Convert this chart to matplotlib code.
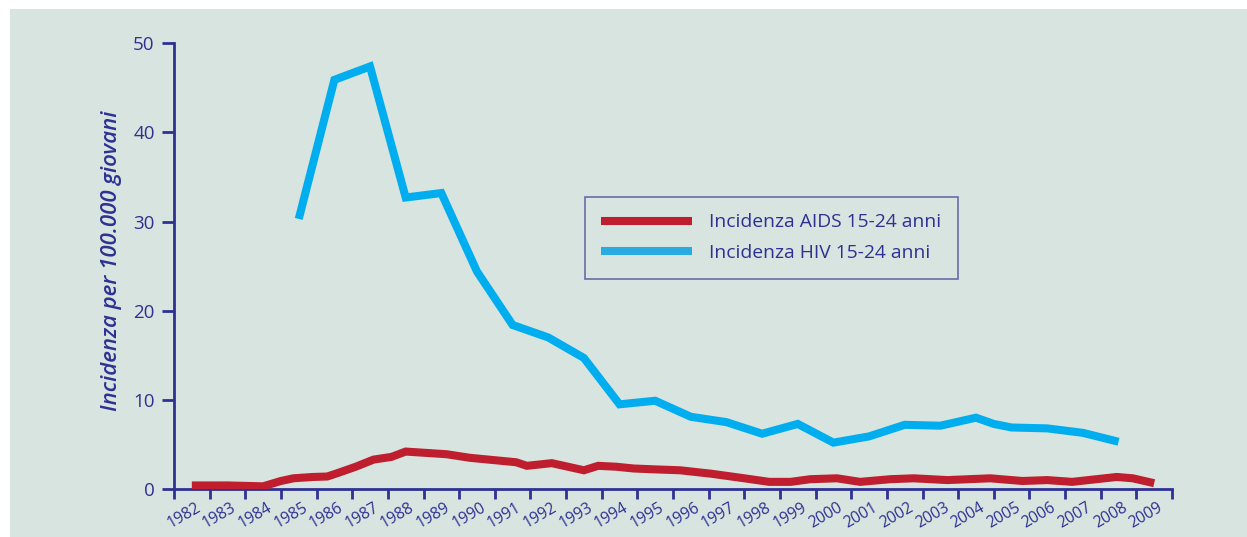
import matplotlib
matplotlib.use("Agg")
import matplotlib.pyplot as plt
from matplotlib.patches import Rectangle
from matplotlib.lines import Line2D
import matplotlib.transforms as mtransforms

# ---- data ----
years = list(range(1982, 2010))
year_labels = [str(y) for y in years]

aids_x = [1982.0, 1983.0, 1984.0, 1984.5, 1984.85, 1985.4, 1985.8, 1986.1, 1986.6,
          1987.1, 1987.6, 1988.0, 1989.15, 1989.8, 1991.1, 1991.4, 1992.1, 1993.0,
          1993.4, 1993.9, 1994.4, 1995.0, 1995.7, 1996.6, 1997.5, 1998.2, 1998.8,
          1999.35, 2000.1, 2000.75, 2001.6, 2002.25, 2003.2, 2004.4, 2005.3, 2006.0,
          2006.7, 2007.95, 2008.4, 2009.0]
aids_y = [0.4, 0.4, 0.3, 0.9, 1.2, 1.35, 1.4, 1.8, 2.5,
          3.3, 3.6, 4.2, 3.9, 3.5, 3.0, 2.6, 2.9, 2.1,
          2.6, 2.5, 2.3, 2.2, 2.1, 1.7, 1.2, 0.8, 0.8,
          1.1, 1.2, 0.8, 1.1, 1.2, 1.0, 1.2, 0.9, 1.0,
          0.8, 1.35, 1.2, 0.65]

hiv_x = [1985, 1986, 1987, 1988, 1989, 1990, 1991, 1992, 1993, 1994, 1995, 1996,
         1997, 1998, 1999, 2000, 2001, 2002, 2003, 2004, 2004.5, 2005, 2006, 2007, 2008]
hiv_y = [30.3, 45.9, 47.4, 32.7, 33.2, 24.4, 18.4, 17.0, 14.7, 9.5, 9.9, 8.1,
         7.5, 6.2, 7.3, 5.2, 5.9, 7.2, 7.1, 8.0, 7.3, 6.9, 6.8, 6.3, 5.3]

series_labels = ["Incidenza AIDS 15-24 anni", "Incidenza HIV 15-24 anni"]
ylabel = "Incidenza per 100.000 giovani"
yticks = [0, 10, 20, 30, 40, 50]

# ---- style ----
BG = "#d8e4df"
NAVY = "#2e3192"
RED = "#be1e2d"
BLUE = "#00aeef"
BLUE_LEG = "#29abe2"
FONT = ["Open Sans", "DejaVu Sans"]
plt.rcParams["font.family"] = FONT

W, H = 1247, 537
fig = plt.figure(figsize=(W / 100, H / 100), dpi=100)
fig.patch.set_facecolor("white")
fig.patches.append(Rectangle((10 / W, 0), 1 - 10 / W, 1 - 9 / H,
                             transform=fig.transFigure, facecolor=BG,
                             edgecolor="none", zorder=-10))

ax = fig.add_axes([174 / W, 1 - 489 / H, (1172 - 174) / W, (489 - 43.3) / H])
ax.set_facecolor("none")
ax.set_zorder(5)

ax.plot(aids_x, aids_y, color=RED, lw=5.8, solid_joinstyle="miter",
        solid_capstyle="butt", zorder=3)
ax.plot(hiv_x, hiv_y, color=BLUE, lw=5.8, solid_joinstyle="miter",
        solid_capstyle="butt", zorder=3)

ax.set_xlim(years[0] - 0.5, years[-1] + 0.5)
ax.set_ylim(0, 50)

for s in ["top", "right"]:
    ax.spines[s].set_visible(False)
for s in ["left", "bottom"]:
    ax.spines[s].set_color(NAVY)
    ax.spines[s].set_linewidth(2.0)
    ax.spines[s].set_capstyle("projecting")

# y ticks
ax.set_yticks(yticks)
ax.set_yticklabels([str(v) for v in yticks])
ax.tick_params(axis="y", direction="out", length=8.4, width=2.0, color=NAVY,
               labelcolor=NAVY, labelsize=13.5, pad=5.5)

# x ticks: marks at year boundaries, labels at year centres
ax.set_xticks([y - 0.5 for y in years] + [years[-1] + 0.5], minor=True)
ax.set_xticks(years)
ax.set_xticklabels(year_labels, rotation=30, ha="center")
ax.tick_params(axis="x", which="minor", direction="out", length=7.5, width=2.0,
               color=NAVY)
ax.tick_params(axis="x", which="major", length=0, labelcolor=NAVY,
               labelsize=11.3, pad=7.5)
offset = mtransforms.ScaledTranslation(-8 / 100, 0, fig.dpi_scale_trans)
for lab in ax.get_xticklabels():
    lab.set_transform(lab.get_transform() + offset)

fig.text(112 / W, 1 - 261 / H, ylabel, rotation=90, ha="center", va="center",
         color=NAVY, fontsize=16, fontstyle="italic", fontweight="semibold")

handles = [Line2D([], [], color=RED, lw=5.8, solid_capstyle="butt"),
           Line2D([], [], color=BLUE_LEG, lw=5.8, solid_capstyle="butt")]
leg = ax.legend(handles, series_labels, loc="upper left",
                bbox_to_anchor=(585 / W, 1 - 197 / H),
                bbox_transform=fig.transFigure, frameon=True, fancybox=False,
                fontsize=13.9, handlelength=4.7, handletextpad=0.88,
                labelspacing=0.66, borderpad=0.85, borderaxespad=0)
leg.get_frame().set_edgecolor("#4d4f9c")
leg.get_frame().set_linewidth(1.2)
leg.get_frame().set_facecolor("none")
for t in leg.get_texts():
    t.set_color(NAVY)

fig.savefig("out.png", dpi=100)
